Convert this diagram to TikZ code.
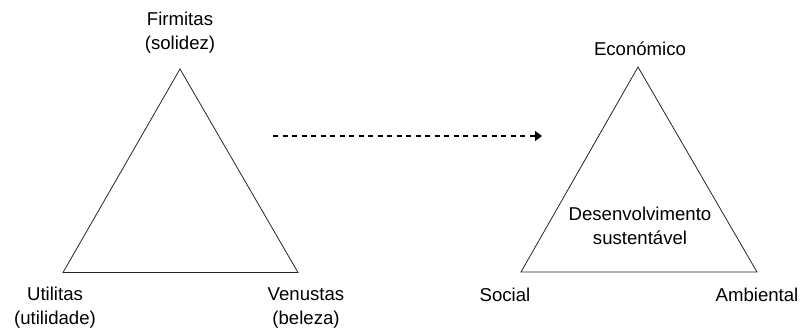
\documentclass[tikz,border=0pt]{standalone}
\usepackage{fontspec}
\setmainfont{Liberation Sans}
\usetikzlibrary{arrows.meta}
\begin{document}
\begin{tikzpicture}[x=1bp,y=-1bp,
  tri/.style={draw=black!85, line width=0.8bp, line join=miter},
  lbl/.style={align=center, inner sep=0pt, font=\fontsize{18.6bp}{24bp}\selectfont, text=black},
  flow/.style={draw=black, line width=1.1bp, dash pattern=on 5bp off 4.5bp, -{Triangle[length=7bp,width=10bp]}}
]
\path[use as bounding box] (0,0) rectangle (802,331);
% left triangle
\coordinate (lt) at (180,69);
\coordinate (ll) at (63,272.5);
\coordinate (lr) at (298,272.5);
\draw[tri] (lt) -- (ll) -- (lr) -- cycle;
\node[lbl] (firm) at (180,33) {Firmitas\\(solidez)};
\node[lbl] (util) at (55,308) {Utilitas\\(utilidade)};
\node[lbl] (venu) at (306,308) {Venustas\\(beleza)};
% right triangle
\coordinate (rt) at (638,67);
\coordinate (rl) at (521,272);
\coordinate (rr) at (757,272);
\draw[tri] (rt) -- (rl) -- (rr) -- cycle;
\node[lbl] (econ) at (640,49) {Económico};
\node[lbl] (dese) at (640,225.5) {Desenvolvimento\\sustentável};
\node[lbl] (soci) at (505,295) {Social};
\node[lbl] (ambi) at (757,295) {Ambiental};
% arrow
\coordinate (as) at (273,136);
\coordinate (ae) at (542,136);
\draw[flow] (as) -- (ae);
\end{tikzpicture}
\end{document}
